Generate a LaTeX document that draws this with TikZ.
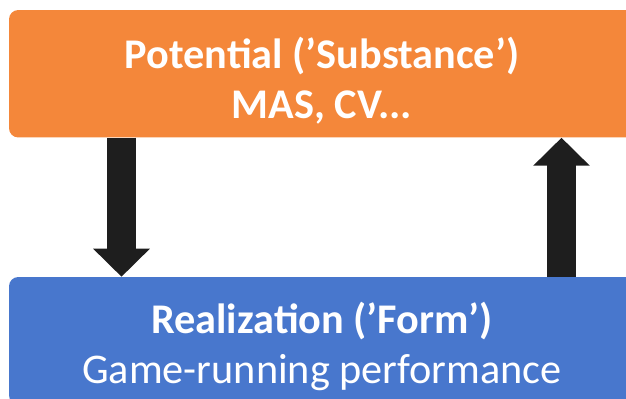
\documentclass[tikz,border=0pt]{standalone}
\usepackage{fontspec}
\setmainfont{Carlito}
\usetikzlibrary{arrows.meta}
\definecolor{potorange}{RGB}{244,135,58}
\definecolor{realblue}{RGB}{72,119,205}
\definecolor{arrdark}{RGB}{30,30,30}
\tikzstyle{box}=[rounded corners=7pt,draw=none,text=white,align=center,minimum width=469.5pt,minimum height=95.6pt,inner sep=0pt,text depth=0pt]
\tikzstyle{pot}=[box,fill=potorange,text height=66.4pt,font=\fontsize{31.7}{37.5}\selectfont\bfseries]
\tikzstyle{real}=[box,fill=realblue,text height=63.4pt,font=\fontsize{31.7}{37.5}\selectfont]
\tikzstyle{bigarr}=[-{Triangle[length=21pt,width=41.25pt]},draw=arrdark,color=arrdark,line width=21.75pt]

\begin{document}
\begin{tikzpicture}[x=0.75pt,y=-0.75pt]
      \useasboundingbox (0,0) rectangle (626,399);
      \clip (0,0) rectangle (626,399);
      \node[pot] (P) at (322,73.75) {Potential (’Substance’)\\MAS, CV...};
      \node[real] (R) at (322,340.75) {\textbf{Realization (’Form’)}\\Game-running performance};
      \draw[bigarr] (P.south -| 121.5,0) -- (R.north -| 121.5,0);
      \draw[bigarr] (R.north -| 561.5,0) -- (P.south -| 561.5,0);
  \end{tikzpicture}
\end{document}
